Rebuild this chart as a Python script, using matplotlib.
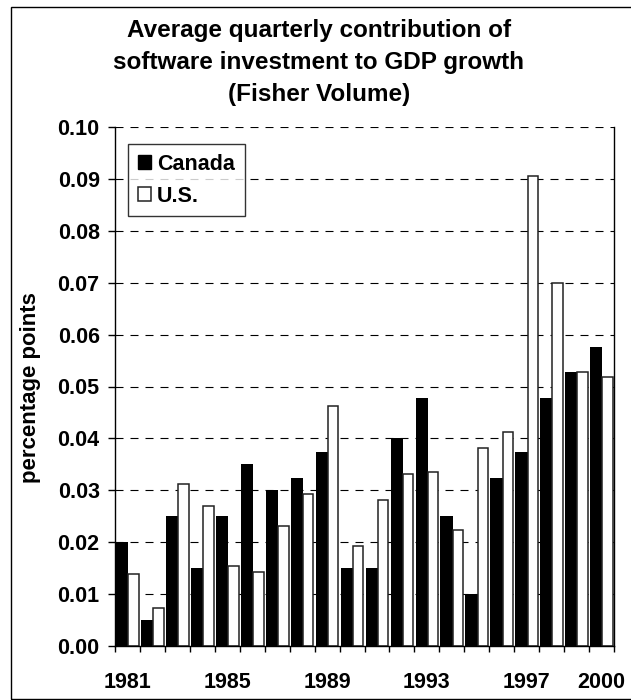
import numpy as np
import matplotlib
matplotlib.use("Agg")
import matplotlib.pyplot as plt
from matplotlib.patches import Rectangle, Patch

plt.rcParams["font.family"] = ["Liberation Sans", "DejaVu Sans"]
plt.rcParams["font.weight"] = "bold"

years = list(range(1981, 2001))
canada = [0.0200, 0.0050, 0.0250, 0.0150, 0.0250, 0.0350, 0.0300, 0.0324, 0.0373, 0.0150,
          0.0150, 0.0400, 0.0477, 0.0250, 0.0100, 0.0324, 0.0373, 0.0477, 0.0527, 0.0577]
us = [0.0139, 0.0073, 0.0312, 0.0270, 0.0155, 0.0143, 0.0231, 0.0292, 0.0462, 0.0192,
      0.0281, 0.0331, 0.0335, 0.0223, 0.0381, 0.0412, 0.0905, 0.0700, 0.0527, 0.0519]
label_years = [1981, 1985, 1989, 1993, 1997, 2000]
y_ticks = [0.00, 0.01, 0.02, 0.03, 0.04, 0.05, 0.06, 0.07, 0.08, 0.09, 0.10]

W, H = 631, 700
fig = plt.figure(figsize=(W / 100, H / 100), dpi=100)
ax = fig.add_axes([115 / W, 1 - 646 / H, (614 - 115) / W, (646 - 127) / H])

x = np.arange(len(years))

# gridlines behind the bars
for v in y_ticks[1:]:
    ax.axhline(v, color="black", lw=0.8, linestyle=(0, (7.2, 6.3)), zorder=0)

ax.bar(x - 0.5 + 0.045, canada, width=0.49, align="edge", color="black",
       edgecolor="black", linewidth=0, zorder=2)
ax.bar(x - 0.5 + 0.535, us, width=0.42, align="edge", color="white",
       edgecolor="#222222", linewidth=1.1, zorder=2)

ax.set_xlim(-0.5, len(years) - 0.5)
ax.set_ylim(0, 0.10)

ax.set_yticks(y_ticks)
ax.set_yticklabels([f"{v:.2f}" for v in y_ticks])
ax.set_xticks([years.index(y) for y in label_years])
ax.set_xticklabels([str(y) for y in label_years])
ax.set_xticks(np.arange(-0.5, len(years)), minor=True)

ax.tick_params(axis="x", which="major", length=0, pad=19, labelsize=15.5)
ax.tick_params(axis="x", which="minor", length=4, width=1, direction="out")
ax.tick_params(axis="y", length=5, width=1, direction="out", pad=6, labelsize=15.5)
for lab in ax.get_xticklabels() + ax.get_yticklabels():
    lab.set_fontweight("bold")

ax.spines["top"].set_visible(False)
for s in ["left", "right", "bottom"]:
    ax.spines[s].set_linewidth(1)
    ax.spines[s].set_color("black")

fig.text(31 / W, 1 - 388 / H, "percentage points", rotation=90, ha="center", va="center",
         fontsize=16, fontweight="bold")

handles = [Patch(facecolor="black", edgecolor="black", label="Canada"),
           Patch(facecolor="white", edgecolor="#222222", linewidth=1.1, label="U.S.")]
leg = ax.legend(handles=handles, loc="upper left", bbox_to_anchor=(0.026, 0.967),
                frameon=True, fancybox=False, shadow=False, fontsize=15.5,
                handlelength=0.6, handleheight=0.6, handletextpad=0.3,
                borderpad=0.45, labelspacing=0.5, borderaxespad=0)
leg.get_frame().set_edgecolor("black")
leg.get_frame().set_linewidth(1)
for t in leg.get_texts():
    t.set_fontweight("bold")

fig.text(0.505, 1 - 62 / H,
         "Average quarterly contribution of\nsoftware investment to GDP growth\n(Fisher Volume)",
         ha="center", va="center", fontsize=17.5, fontweight="bold", linespacing=1.5)

fig.patches.append(Rectangle((10.5 / W, 1 / H), 1.0, (699 - 7) / H, transform=fig.transFigure,
                             fill=False, edgecolor="black", linewidth=1, clip_on=False))

fig.savefig("out.png", dpi=100)
